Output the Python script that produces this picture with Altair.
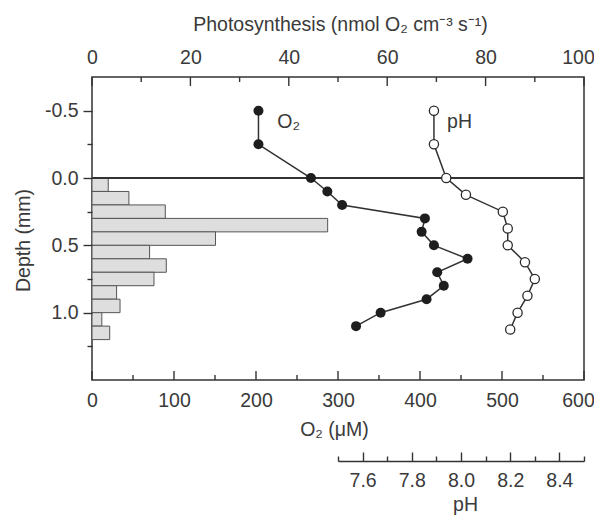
import altair as alt
import pandas as pd

# O2 profile (depth in mm, O2 in uM)
o2_depth = [-0.5, -0.25, 0.0, 0.1, 0.2, 0.3, 0.4, 0.5, 0.6, 0.7, 0.8, 0.9, 1.0, 1.1]
o2_value = [203, 203, 267, 287, 305, 406, 402, 417, 458, 421, 429, 408, 352, 322]

# pH profile
ph_depth = [-0.5, -0.25, 0.0, 0.125, 0.25, 0.375, 0.5, 0.625, 0.75, 0.875, 1.0, 1.125]
ph_value = [7.89, 7.89, 7.94, 8.02, 8.17, 8.19, 8.19, 8.26, 8.30, 8.27, 8.23, 8.20]

# Photosynthesis histogram (depth bins in mm)
ps_top = [0.0, 0.1, 0.2, 0.3, 0.4, 0.5, 0.6, 0.7, 0.8, 0.9, 1.0, 1.1]
ps_bottom = [0.1, 0.2, 0.3, 0.4, 0.5, 0.6, 0.7, 0.8, 0.9, 1.0, 1.1, 1.2]
ps_value = [3.3, 7.5, 14.9, 47.9, 25.1, 11.7, 15.1, 12.6, 5.0, 5.7, 2.0, 3.6]

# in-plot labels
lab_text = ["O₂", "pH"]
lab_x = [226, 433]
lab_depth = [-0.375, -0.375]

# tick values
o2_major = [0, 100, 200, 300, 400, 500, 600]
o2_minor = [50, 150, 250, 350, 450, 550]
ps_major = [0, 20, 40, 60, 80, 100]
ps_minor = [10, 30, 50, 70, 90]
ph_ticks = [7.5, 7.6, 7.7, 7.8, 7.9, 8.0, 8.1, 8.2, 8.3, 8.4, 8.5]
depth_ticks = [-0.5, -0.25, 0.0, 0.25, 0.5, 0.75, 1.0, 1.25]

o2_df = pd.DataFrame({"depth": o2_depth, "o2": o2_value})
ph_df = pd.DataFrame({"depth": ph_depth, "ph": ph_value})
ps_df = pd.DataFrame({"top": ps_top, "bottom": ps_bottom, "ps": ps_value})
lab_df = pd.DataFrame({"text": lab_text, "x": lab_x, "depth": lab_depth})

FONT = "Liberation Sans"
TXT = "#3a3a3a"
INK = "#333333"
FS = 19.5
H = 303

common_axis = dict(
    labelFont=FONT, labelFontSize=FS, labelColor=TXT,
    titleFont=FONT, titleFontSize=FS, titleColor=TXT, titleFontWeight="normal",
    tickColor=INK, tickWidth=1.4, labelFlush=False, labelOverlap=False, grid=False,
    zindex=2,
)

o2_scale = alt.Scale(domain=[0, 600], nice=False)
ps_scale = alt.Scale(domain=[0, 100], nice=False)
yscale = alt.Scale(domain=[-0.75, 1.5], reverse=True, nice=False, zero=False)

major_depth = "abs(datum.value*2-round(datum.value*2))<0.001"
yaxis = alt.Axis(
    values=depth_ticks,
    labelExpr=f"{major_depth} ? (datum.value<0 ? '-' : '') + format(abs(datum.value), '.1f') : ''",
    tickSize={"condition": {"test": major_depth, "value": 9}, "value": 5},
    labelPadding=5, domain=False,
    title="Depth (mm)", titleX=-63, titleY=163, titleAngle=-90,
    titleBaseline="alphabetic", titleAlign="center",
    **common_axis,
)

ps_axis = alt.Axis(
    orient="top", values=ps_major, domain=False, ticks=False,
    labelOffset={"condition": {"test": "datum.value === 100", "value": -6}, "value": 0},
    labelPadding=10,
    title="Photosynthesis (nmol O₂ cm⁻³ s⁻¹)", titleX=248, titleY=-47,
    titleBaseline="alphabetic", titleAlign="center",
    **common_axis,
)

o2_axis = alt.Axis(
    orient="bottom", values=o2_major, domain=False, ticks=False,
    labelOffset={"condition": {"test": "datum.value === 600", "value": -6}, "value": 0},
    labelPadding=11,
    title="O₂ (μM)", titleX=242, titleY=55,
    titleBaseline="alphabetic", titleAlign="center",
    **common_axis,
)

ph_axis = alt.Axis(
    orient="bottom", values=ph_ticks, offset=81, domain=True,
    domainColor=INK, domainWidth=1.4, format=".1f",
    labelExpr="round(datum.value*10) % 2 === 0 ? datum.label : ''",
    tickSize={"condition": {"test": "round(datum.value*10) % 2 === 0", "value": -9}, "value": -5},
    labelPadding=19,
    title="pH", titleX=373, titleY=49,
    titleBaseline="alphabetic", titleAlign="center",
    **common_axis,
)

bars = alt.Chart(ps_df).mark_bar(
    fill="#dedede", stroke="#555555", strokeWidth=1
).encode(
    x=alt.X("ps:Q", scale=ps_scale, axis=ps_axis),
    x2=alt.datum(0),
    y=alt.Y("top:Q", scale=yscale, axis=yaxis),
    y2="bottom:Q",
)

zero_line = alt.Chart(o2_df).mark_rule(color=INK, strokeWidth=1.5).encode(
    y=alt.Y(datum=0, scale=yscale, axis=yaxis),
)

o2_line = alt.Chart(o2_df).mark_line(
    color=INK, strokeWidth=1.5,
    point=alt.OverlayMarkDef(filled=True, fill="#1e1e1e", size=100, strokeWidth=0),
).encode(
    x=alt.X("o2:Q", scale=o2_scale, axis=o2_axis),
    y=alt.Y("depth:Q", scale=yscale, axis=yaxis),
    order="depth:Q",
)

ph_line = alt.Chart(ph_df).mark_line(
    color=INK, strokeWidth=1.5,
    point=alt.OverlayMarkDef(filled=False, fill="white", stroke="#2a2a2a",
                             strokeWidth=1.3, size=85, opacity=1),
).encode(
    x=alt.X("ph:Q", scale=alt.Scale(domain=[7.5, 8.5], range=[246, 492], nice=False,
                                    zero=False), axis=ph_axis),
    y=alt.Y("depth:Q", scale=yscale, axis=yaxis),
    order="depth:Q",
)

labels = alt.Chart(lab_df).mark_text(
    font=FONT, fontSize=FS, color=TXT, align="left", baseline="alphabetic"
).encode(
    x=alt.X("x:Q", scale=o2_scale, axis=None),
    y=alt.Y("depth:Q", scale=yscale, axis=yaxis),
    text="text:N",
)


def frame_ticks(values, scale, y0, y1):
    return alt.Chart(pd.DataFrame({"v": values})).mark_rule(
        color=INK, strokeWidth=1.4
    ).encode(
        x=alt.X("v:Q", scale=scale, axis=None),
        y=alt.value(y0), y2=alt.value(y1),
    )


ticks_top_major = frame_ticks(ps_major, ps_scale, 0, 9)
ticks_top_minor = frame_ticks(ps_minor, ps_scale, 0, 5)
ticks_bot_major = frame_ticks(o2_major, o2_scale, H, H - 9)
ticks_bot_minor = frame_ticks(o2_minor, o2_scale, H, H - 5)

chart = alt.layer(
    bars, zero_line, o2_line, ph_line, labels,
    ticks_top_major, ticks_top_minor, ticks_bot_major, ticks_bot_minor,
).resolve_scale(
    x="independent"
).properties(
    width=492, height=H,
    autosize=alt.AutoSizeParams(type="none"),
    padding={"left": 84, "top": 69, "right": 10, "bottom": 135},
    background="white",
).configure_view(
    stroke=INK, strokeWidth=1.5
)

chart.save("out.html", embed_options={"renderer": "svg", "actions": False})
